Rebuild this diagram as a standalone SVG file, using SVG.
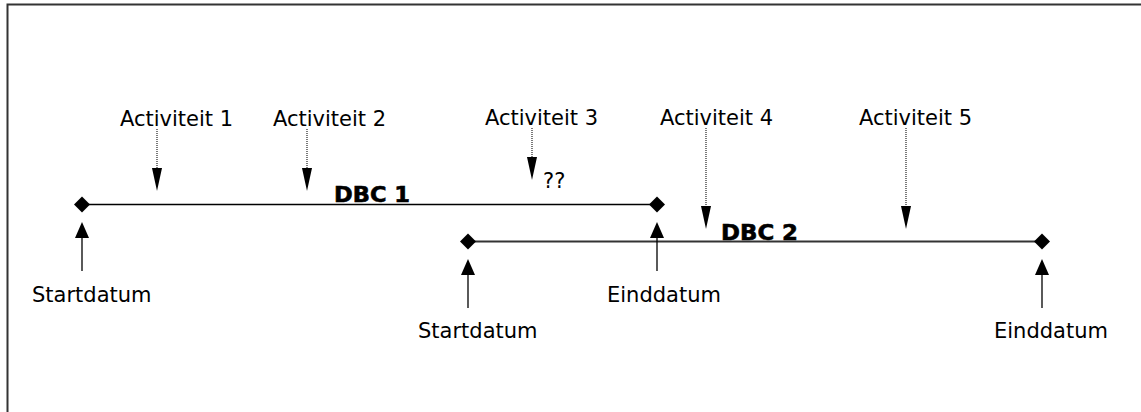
<svg xmlns="http://www.w3.org/2000/svg" xmlns:xlink="http://www.w3.org/1999/xlink" width="1141" height="412" viewBox="0 0 1141 412">
<style>
  .t { font-family: "DejaVu Sans", Verdana, sans-serif; font-size: 21px; fill: #000; }
  .b { font-family: "DejaVu Sans", Verdana, sans-serif; font-size: 21px; font-weight: bold; fill: #000; stroke: #000; stroke-width: 0.6; }
  .dot { stroke: #333; stroke-width: 1.3; stroke-dasharray: 1 1; fill: none; }
  .sol { stroke: #000; stroke-width: 1.3; fill: none; }
  .tl1 { stroke: #000; stroke-width: 1.5; fill: none; }
  .tl2 { stroke: #333; stroke-width: 2; fill: none; }
  .frame { stroke: #333; stroke-width: 2; fill: none; }
</style>
<defs>
  <path id="ahd" d="M-5,0 L5,0 L0,23 Z" fill="#000"/>
  <path id="ahu" d="M-7,0 L7,0 L0,-16 Z" fill="#000"/>
  <path id="dia" d="M0,-8 L8,0 L0,8 L-8,0 Z" fill="#000"/>
</defs>
<rect width="1141" height="412" fill="#fff"/>
<path class="frame" d="M7.5,412 V4.5 H1141"/>

<g id="dbc1">
  <line class="tl1" x1="82" y1="204.5" x2="657" y2="204.5"/>
  <use xlink:href="#dia" x="82" y="204.5"/>
  <use xlink:href="#dia" x="657" y="204.5"/>
  <text class="b" x="334" y="201.5" textLength="76" lengthAdjust="spacingAndGlyphs">DBC 1</text>
</g>
<g id="dbc2">
  <line class="tl2" x1="468" y1="241.5" x2="1042" y2="241.5"/>
  <use xlink:href="#dia" x="468" y="241.5"/>
  <use xlink:href="#dia" x="1042" y="241.5"/>
  <text class="b" x="721" y="240" textLength="77" lengthAdjust="spacingAndGlyphs">DBC 2</text>
</g>

<g id="act1"><text class="t" x="120" y="126">Activiteit 1</text></g>
<g id="act2"><text class="t" x="273" y="126">Activiteit 2</text></g>
<g id="act3"><text class="t" x="485" y="125">Activiteit 3</text></g>
<g id="act4"><text class="t" x="660" y="125">Activiteit 4</text></g>
<g id="act5"><text class="t" x="859" y="125">Activiteit 5</text></g>
<g id="qq"><text class="t" x="543" y="188">??</text></g>
<g id="start1"><text class="t" x="32" y="302">Startdatum</text></g>
<g id="eind1"><text class="t" x="607" y="302">Einddatum</text></g>
<g id="start2"><text class="t" x="418" y="338">Startdatum</text></g>
<g id="eind2"><text class="t" x="994" y="338">Einddatum</text></g>

<g id="connectors">
  <line class="dot" x1="157" y1="129" x2="157" y2="169"/>
  <use xlink:href="#ahd" x="157" y="168"/>
  <line class="dot" x1="307" y1="129" x2="307" y2="169"/>
  <use xlink:href="#ahd" x="307" y="168"/>
  <line class="dot" x1="532" y1="128" x2="532" y2="158"/>
  <use xlink:href="#ahd" x="532" y="157"/>
  <line class="dot" x1="706" y1="128" x2="706" y2="207"/>
  <use xlink:href="#ahd" x="706" y="206"/>
  <line class="dot" x1="906" y1="128" x2="906" y2="207"/>
  <use xlink:href="#ahd" x="906" y="206"/>

  <line class="sol" x1="82" y1="271" x2="82" y2="237"/>
  <use xlink:href="#ahu" x="82" y="238"/>
  <line class="sol" x1="657" y1="271" x2="657" y2="237"/>
  <use xlink:href="#ahu" x="657" y="238"/>
  <line class="sol" x1="468" y1="308" x2="468" y2="274"/>
  <use xlink:href="#ahu" x="468" y="275"/>
  <line class="sol" x1="1042" y1="308" x2="1042" y2="274"/>
  <use xlink:href="#ahu" x="1042" y="275"/>
</g>
</svg>
